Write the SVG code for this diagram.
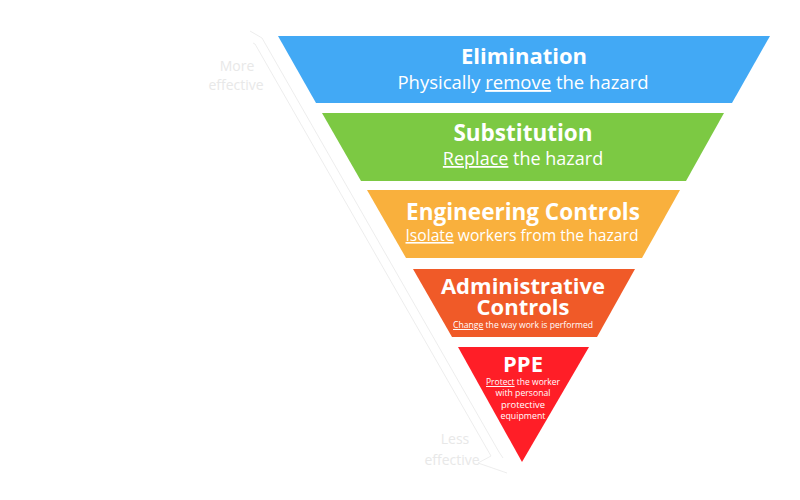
<svg xmlns="http://www.w3.org/2000/svg" width="800" height="500" viewBox="0 0 800 500">
<style>
text{font-family:"Open Sans","Noto Sans","Liberation Sans",sans-serif;fill:#fff;text-anchor:middle}
.t{font-weight:bold}
.u{text-decoration:underline}
.side{fill:#e8e8e8;font-size:14px}
.arrow{fill:none;stroke:#e8e8e8;stroke-width:0.8}
</style>
<rect width="800" height="500" fill="#fff"/>
<g id="arrow">
<polyline class="arrow" points="250,31 262,38 499,452 503,458"/>
<polyline class="arrow" points="253,43 255,44 491,456 478,463 507,473"/>
</g>
<g id="more-effective"><text class="side" x="237" y="71">More</text><text class="side" x="236" y="90">effective</text></g>
<g id="less-effective"><text class="side" x="455" y="444">Less</text><text class="side" x="452" y="465">effective</text></g>
<g id="elimination">
<polygon points="278,36 770,36 732,103 316,103" fill="#42a9f5"/>
<text class="t" x="524" y="64" font-size="22">Elimination</text>
<text x="523" y="89" font-size="18.5">Physically <tspan class="u">remove</tspan> the hazard</text>
</g>
<g id="substitution">
<polygon points="322,113 724,113 686,181 361,181" fill="#7cc943"/>
<text class="t" x="523" y="141" font-size="22.5">Substitution</text>
<text x="523" y="165" font-size="18"><tspan class="u">Replace</tspan> the hazard</text>
</g>
<g id="engineering">
<polygon points="367,190 680,190 642,258 406,258" fill="#f9b03d"/>
<text class="t" x="523" y="220" font-size="22.5">Engineering Controls</text>
<text x="522" y="241" font-size="16" textLength="233" lengthAdjust="spacingAndGlyphs"><tspan class="u">Isolate</tspan> workers from the hazard</text>
</g>
<g id="administrative">
<polygon points="413,269 635,269 597,337 452,337" fill="#f05a28"/>
<text class="t" x="523" y="294" font-size="22">Administrative</text>
<text class="t" x="523" y="315" font-size="22">Controls</text>
<text x="523" y="328" font-size="9.5" textLength="140" lengthAdjust="spacingAndGlyphs"><tspan class="u">Change</tspan> the way work is performed</text>
</g>
<g id="ppe">
<polygon points="458,347 589,347 522,462" fill="#ff1e27"/>
<text class="t" x="523" y="372" font-size="22">PPE</text>
<text x="523" y="385" font-size="9.5" textLength="74" lengthAdjust="spacingAndGlyphs"><tspan class="u">Protect</tspan> the worker</text>
<text x="523" y="396" font-size="9.5" textLength="55" lengthAdjust="spacingAndGlyphs">with personal</text>
<text x="523" y="407.5" font-size="9.5" textLength="44" lengthAdjust="spacingAndGlyphs">protective</text>
<text x="523" y="419" font-size="9.5" textLength="45" lengthAdjust="spacingAndGlyphs">equipment</text>
</g>
</svg>
